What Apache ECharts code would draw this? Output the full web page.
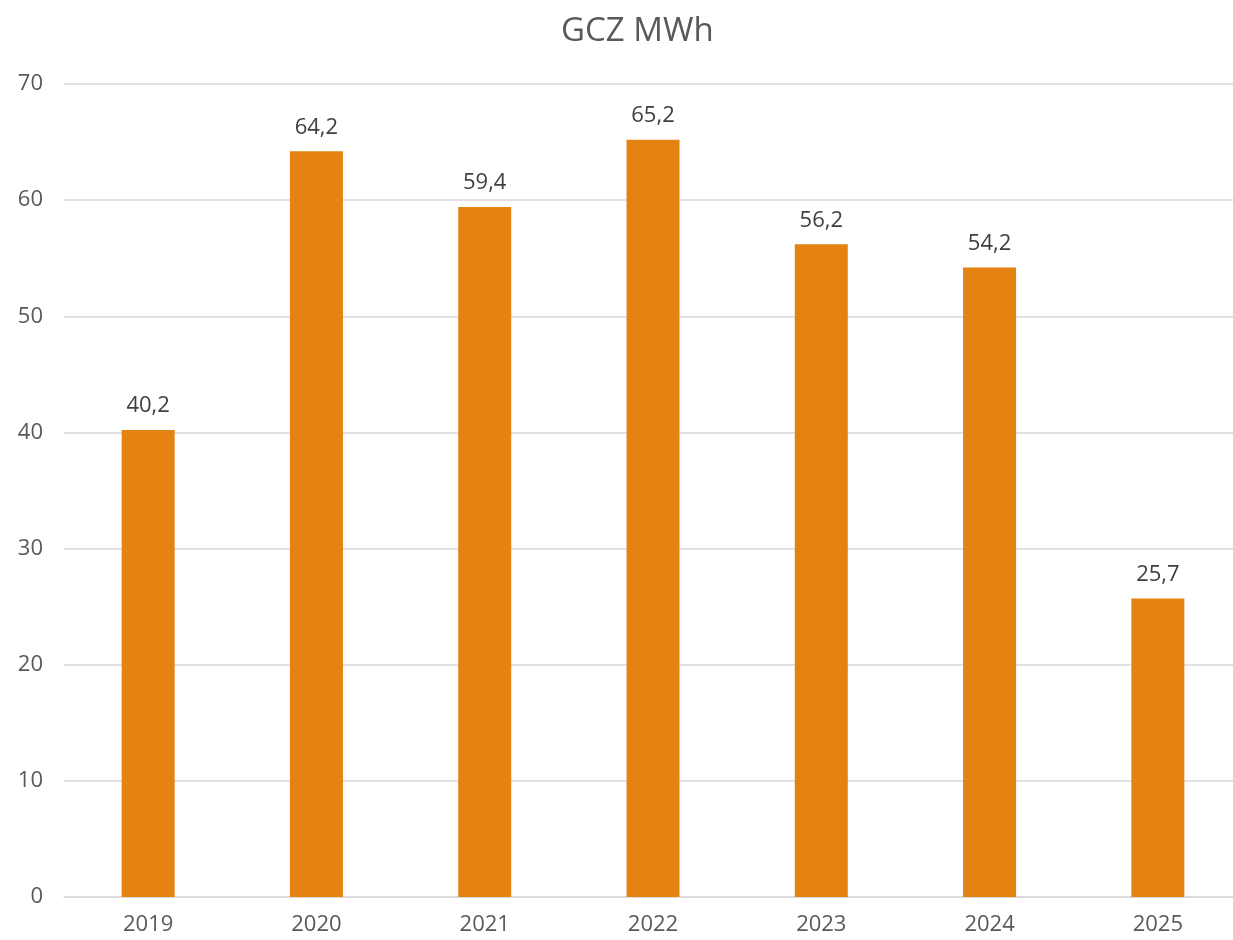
<!DOCTYPE html>
<html>
<head>
<meta charset="utf-8">
<script src="https://cdn.jsdelivr.net/npm/echarts@6/dist/echarts.min.js"></script>
<style>
  html, body { margin: 0; padding: 0; background: #fff; }
  #chart { width: 1233px; height: 940px; }
</style>
</head>
<body>
<div id="chart"></div>
<script>
// data
const years = ['2019', '2020', '2021', '2022', '2023', '2024', '2025']
const energyMWh = [40.2, 64.2, 59.4, 65.2, 56.2, 54.2, 25.7]
const yTicks = { min: 0, max: 70, interval: 10 }

const font = '"Open Sans", "DejaVu Sans", sans-serif'
const chart = echarts.init(document.getElementById('chart'))

chart.setOption({
  backgroundColor: '#ffffff',
  animation: false,
  title: {
    text: 'GCZ MWh',
    left: 556,
    top: 10,
    textStyle: {
      fontFamily: font,
      fontWeight: 'normal',
      fontSize: 33,
      color: '#595959'
    }
  },
  grid: {
    left: 64,
    right: -9, // excel plot area runs a bit past the image edge
    top: 84,
    bottom: 43,
    containLabel: false,
    outerBoundsMode: 'none'
  },
  xAxis: {
    type: 'category',
    data: years,
    axisTick: { show: false },
    axisLine: { lineStyle: { color: '#d9d9d9', width: 1.5 } },
    axisLabel: {
      margin: 17,
      fontFamily: font,
      fontSize: 22,
      color: '#595959'
    }
  },
  yAxis: {
    type: 'value',
    min: yTicks.min,
    max: yTicks.max,
    interval: yTicks.interval,
    axisLine: { show: false },
    axisTick: { show: false },
    axisLabel: {
      margin: 21,
      fontFamily: font,
      fontSize: 22,
      color: '#595959'
    },
    splitLine: { lineStyle: { color: '#d9d9d9', width: 1.5 } }
  },
  series: [{
    type: 'bar',
    data: energyMWh,
    barWidth: 53,
    itemStyle: { color: '#e58312' },
    label: {
      show: true,
      position: 'top',
      distance: 13,
      fontFamily: font,
      fontSize: 22,
      color: '#404040',
      formatter: p => String(p.value).replace('.', ',')
    }
  }]
})
</script>
</body>
</html>
